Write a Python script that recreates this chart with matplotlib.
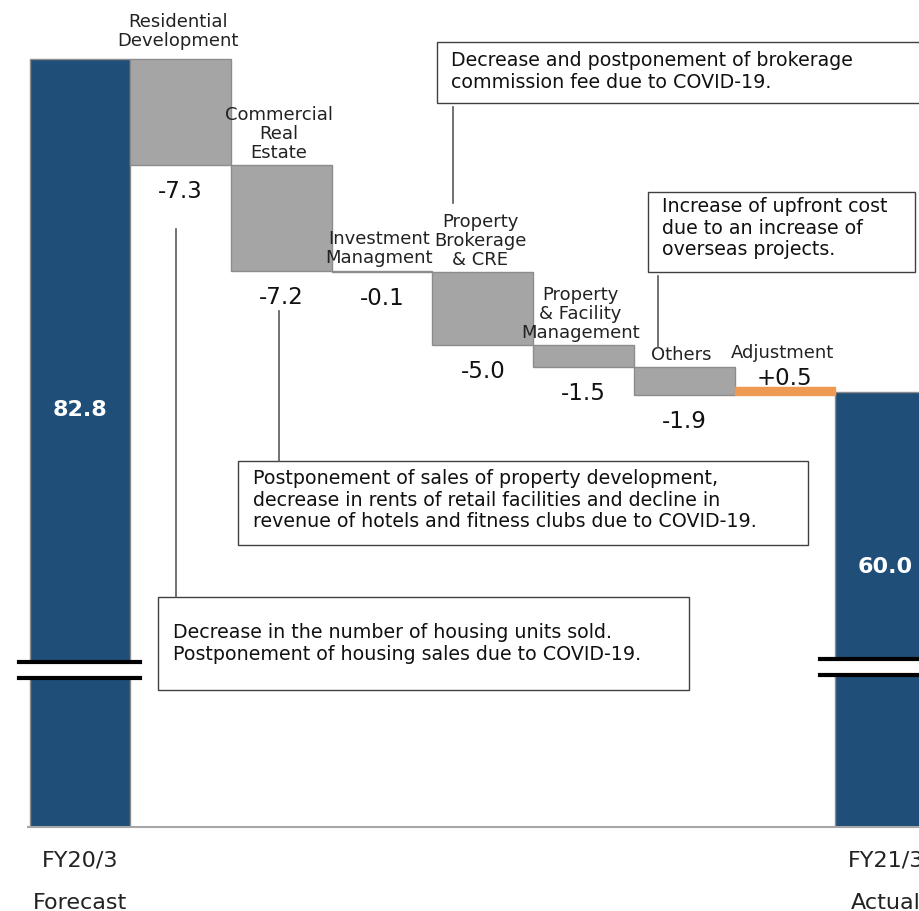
import matplotlib
matplotlib.use("Agg")
import matplotlib.pyplot as plt
from matplotlib.patches import Rectangle

# waterfall values (billion yen)
start_label = "FY20/3\n\nForecast"
end_label = "FY21/3\n\nActual"
start_value = 82.8
end_value = 60.0
categories = ["Residential\nDevelopment", "Commercial\nReal\nEstate",
              "Investment\nManagment", "Property\nBrokerage\n& CRE",
              "Property\n& Facility\nManagement", "Others", "Adjustment"]
changes = [-7.3, -7.2, -0.1, -5.0, -1.5, -1.9, 0.5]
change_labels = ["-7.3", "-7.2", "-0.1", "-5.0", "-1.5", "-1.9", "+0.5"]

notes = [
    "Decrease and postponement of brokerage\ncommission fee due to COVID-19.",
    "Increase of upfront cost\ndue to an increase of\noverseas projects.",
    "Postponement of sales of property development,\ndecrease in rents of retail facilities and decline in\nrevenue of hotels and fitness clubs due to COVID-19.",
    "Decrease in the number of housing units sold.\nPostponement of housing sales due to COVID-19.",
]

NAVY = "#1F4E79"
GREY = "#A5A5A5"
ORANGE = "#EE9A52"
EDGE = "#8C8C8C"

W, H = 919, 912
fig = plt.figure(figsize=(W / 100, H / 100), dpi=100)
ax = fig.add_axes([0, 1 - 828 / H, 1, 828 / H])
ax.set_xlim(-0.794, 8.332)
ax.set_ylim(30.2, 86.9)
for s in ax.spines.values():
    s.set_visible(False)
ax.set_yticks([])

# totals
ax.bar([0, len(changes) + 1], [start_value, end_value], width=1.0,
       color=NAVY, edgecolor=EDGE, linewidth=1, zorder=2)
ax.text(0, 58.8, f"{start_value:.1f}", color="white", fontsize=16,
        fontweight="bold", ha="center", va="center", zorder=5)
ax.text(len(changes) + 1, 48.1, f"{end_value:.1f}", color="white",
        fontsize=16, fontweight="bold", ha="center", va="center", zorder=5)

# steps
level = start_value
for i, (cat, d, lab) in enumerate(zip(categories, changes, change_labels), 1):
    lo, hi = min(level, level + d), max(level, level + d)
    ax.bar(i, hi - lo, bottom=lo, width=1.0,
           color=ORANGE if d > 0 else GREY,
           edgecolor=ORANGE if d > 0 else EDGE, linewidth=1, zorder=2)
    if d < 0:
        pad = 7 if i == 1 else 3
        ax.annotate(cat, (i, hi), xytext=(-2, pad), textcoords="offset points",
                    ha="center", va="bottom", fontsize=13, linespacing=1.08,
                    color="#222222", zorder=4)
        ax.annotate(lab, (i, lo), xytext=(0, -10), textcoords="offset points",
                    ha="center", va="top", fontsize=16.5, color="#111111")
    else:
        ax.annotate(lab, (i, hi), xytext=(0, -1), textcoords="offset points",
                    ha="center", va="bottom", fontsize=16.5, color="#111111")
        ax.annotate(cat, (i, hi), xytext=(-2, 19), textcoords="offset points",
                    ha="center", va="bottom", fontsize=13, color="#222222")
    level += d

ax.set_xticks([0, len(changes) + 1])
ax.set_xticklabels([start_label, end_label], fontsize=16, linespacing=1.1,
                   color="#222222")
ax.tick_params(axis="x", length=0, pad=16)

# overlay in pixel units for baseline, axis breaks and callouts
ov = fig.add_axes([0, 0, 1, 1])
ov.set_xlim(0, W)
ov.set_ylim(H, 0)
ov.axis("off")
ov.patch.set_alpha(0)

ov.plot([28, W], [828, 828], color="#A6A6A6", lw=1.5)

for x0, x1, y0, y1 in [(19, 140, 663, 679), (820, W, 660, 676)]:
    ov.add_patch(Rectangle((x0 + 8, y0), x1 - x0 - 8, y1 - y0,
                           color="white", zorder=3))
    ov.plot([x0, x1], [y0, y0], color="black", lw=3, zorder=4)
    ov.plot([x0, x1], [y1, y1], color="black", lw=3, zorder=4)

boxes = [(437, 43, 920, 104), (648, 193, 915, 273),
         (238, 462, 808, 546), (158, 598, 689, 691)]
text_pos = [(451, 51), (662, 197), (253, 469), (173, 623)]
leaders = [(453, 108, 204), (658, 277, 348), (279, 312, 462), (176, 230, 598)]

for (x0, y0, x1, y1), (tx, ty), (lx, ly0, ly1), note in zip(boxes, text_pos, leaders, notes):
    ov.add_patch(Rectangle((x0, y0), x1 - x0, y1 - y0, facecolor="white",
                           edgecolor="#404040", lw=1, zorder=5))
    ov.text(tx, ty, note, ha="left", va="top", fontsize=13.7, linespacing=1.17,
            color="#111111", zorder=6)
    ov.plot([lx, lx], [ly0, ly1], color="#595959", lw=1.2, zorder=5)

fig.savefig("out.png", dpi=100)
